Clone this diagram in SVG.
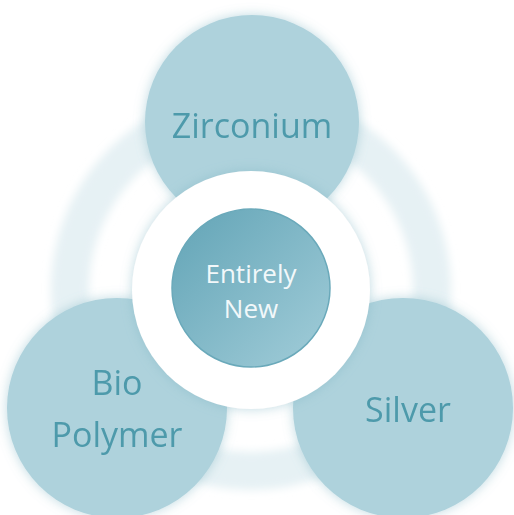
<svg xmlns="http://www.w3.org/2000/svg" width="514" height="515" viewBox="0 0 514 515">
<style>
.big{fill:#aed2dc}
.lbl{font-family:"Open Sans","Liberation Sans",sans-serif;fill:#4e9aab;text-anchor:middle}
.ctr{font-family:"Open Sans","Liberation Sans",sans-serif;fill:#f2f8fa;text-anchor:middle}
</style>
<defs>
<filter id="sh" x="-30%" y="-30%" width="160%" height="160%">
<feGaussianBlur in="SourceAlpha" stdDeviation="6"/>
<feOffset dx="0" dy="0" result="b"/>
<feFlood flood-color="#7fb5c3" flood-opacity="0.5"/>
<feComposite in2="b" operator="in"/>
<feMerge><feMergeNode/><feMergeNode in="SourceGraphic"/></feMerge>
</filter>
<filter id="soft" x="-20%" y="-20%" width="140%" height="140%">
<feGaussianBlur stdDeviation="4"/>
</filter>
<linearGradient id="cg" x1="0" y1="0" x2="1" y2="1">
<stop offset="0" stop-color="#62a4b6"/>
<stop offset="1" stop-color="#a2cdd9"/>
</linearGradient>
</defs>
<rect width="514" height="515" fill="#ffffff"/>
<g id="bg-ring" filter="url(#soft)">
<circle cx="251" cy="290" r="181" fill="none" stroke="#e6f1f4" stroke-width="38"/>
</g>
<g id="zirconium" filter="url(#sh)">
<circle class="big" cx="252" cy="122" r="107"/>
<text class="lbl" x="252" y="138" font-size="34">Zirconium</text>
</g>
<g id="bio-polymer" filter="url(#sh)">
<circle class="big" cx="117" cy="408" r="110"/>
<text class="lbl" x="117" y="395" font-size="34">Bio</text>
<text class="lbl" x="117" y="447" font-size="34">Polymer</text>
</g>
<g id="silver" filter="url(#sh)">
<circle class="big" cx="403" cy="408" r="110"/>
<text class="lbl" x="408" y="422" font-size="34">Silver</text>
</g>
<g id="entirely-new">
<circle cx="251" cy="290" r="119" fill="#ffffff" filter="url(#sh)"/>
<circle cx="251" cy="288" r="79" fill="url(#cg)" stroke="#6aa9ba" stroke-width="1.5"/>
<text class="ctr" x="251" y="283" font-size="26">Entirely</text>
<text class="ctr" x="251" y="318" font-size="26">New</text>
</g>
</svg>
